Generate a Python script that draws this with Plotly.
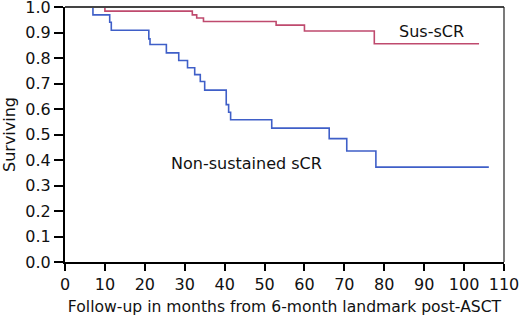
import plotly.graph_objects as go

# Non-sustained sCR (blue) Kaplan-Meier steps
nonsus_t = [0, 7.0, 11.2, 11.6, 21.0, 21.3, 25.4, 28.5, 30.7, 32.5, 33.9, 35.0, 40.4, 41.0, 41.5, 51.8, 66.2, 70.6, 77.9, 106.2]
nonsus_s = [1.0, 0.969, 0.94, 0.909, 0.875, 0.853, 0.82, 0.79, 0.762, 0.735, 0.708, 0.674, 0.617, 0.587, 0.558, 0.525, 0.484, 0.435, 0.372, 0.372]

# Sus-sCR (red) Kaplan-Meier steps
sus_t = [0, 10.0, 31.9, 33.0, 34.7, 52.9, 60.0, 77.5, 103.75]
sus_s = [1.0, 0.984, 0.969, 0.957, 0.943, 0.929, 0.906, 0.856, 0.856]

x_ticks = list(range(0, 111, 10))
y_ticks = [i / 10 for i in range(0, 11)]

FONT = "DejaVu Sans"

fig = go.Figure()
fig.add_trace(go.Scatter(x=sus_t, y=sus_s, mode="lines", line=dict(shape="hv", color="#bf4a6e", width=1.6),
                         name="Sus-sCR", showlegend=False))
fig.add_trace(go.Scatter(x=nonsus_t, y=nonsus_s, mode="lines", line=dict(shape="hv", color="#3f5fc8", width=1.6),
                         name="Non-sustained sCR", showlegend=False))

fig.add_annotation(x=91.8, y=0.905, text="Sus-sCR", showarrow=False,
                   font=dict(family=FONT, size=16, color="#111"))
fig.add_annotation(x=45.5, y=0.387, text="Non-sustained sCR", showarrow=False,
                   font=dict(family=FONT, size=16, color="#111"))

# top/right frame
fig.add_shape(type="line", xref="paper", yref="paper", x0=0, x1=1, y0=1, y1=1,
              line=dict(color="#444", width=2))
fig.add_shape(type="line", xref="paper", yref="paper", x0=1, x1=1, y0=0, y1=1,
              line=dict(color="#222", width=1.2))

fig.update_layout(
    width=520, height=319,
    margin=dict(l=65, r=16, t=7, b=57),
    paper_bgcolor="white", plot_bgcolor="white",
    font=dict(family=FONT, size=16, color="#111"),
    xaxis=dict(range=[0, 110], tickvals=x_ticks, ticktext=[str(v) for v in x_ticks],
               showgrid=False, zeroline=False, showline=True, linecolor="black", linewidth=2,
               ticks="outside", ticklen=7, tickwidth=1.5, tickcolor="black",
               automargin=False, ticklabeloverflow="allow",
               title=dict(text="Follow-up in months from 6-month landmark post-ASCT", standoff=8,
                          font=dict(family=FONT, size=15.6))),
    yaxis=dict(range=[0, 1.0], tickvals=y_ticks, ticktext=[f"{v:.1f}" for v in y_ticks],
               showgrid=False, zeroline=False, showline=True, linecolor="black", linewidth=2,
               ticks="outside", ticklen=9, tickwidth=1.5, tickcolor="black",
               automargin=False, ticklabeloverflow="allow",
               title=dict(text="Surviving", standoff=6, font=dict(family=FONT, size=16))),
)

fig.write_html("out.html", config={"displayModeBar": False},
               post_script="document.body.style.margin='0';")
